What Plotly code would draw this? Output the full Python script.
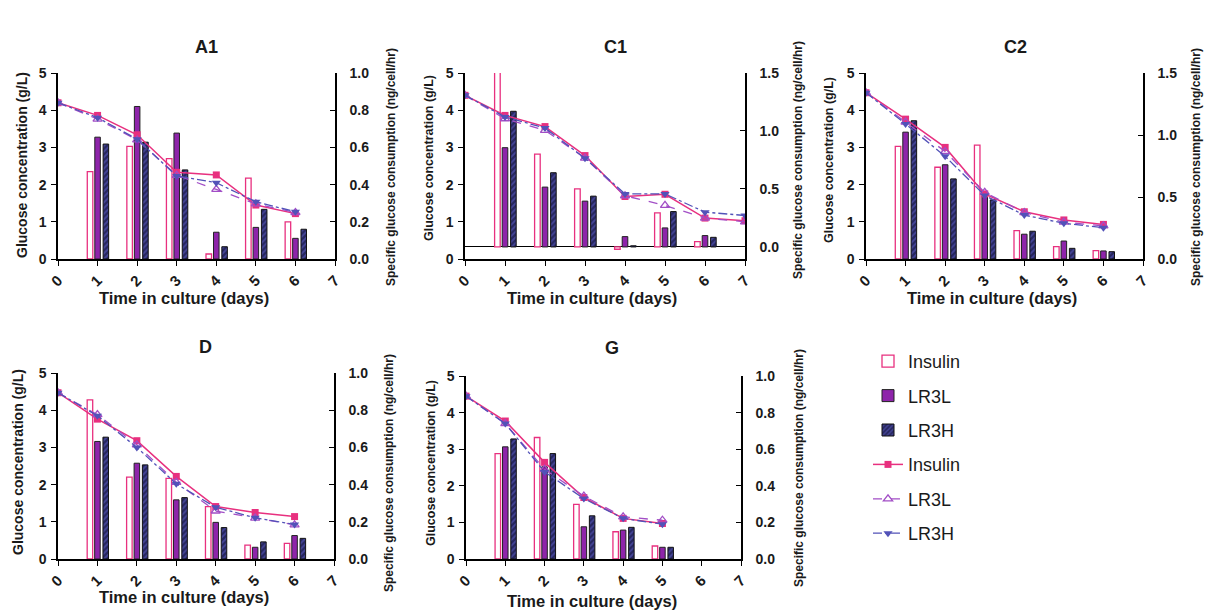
import plotly.graph_objects as go

# ---------------- data ----------------
panel_names = ["A1", "C1", "C2", "D", "G"]
series_names = ["Insulin", "LR3L", "LR3H"]

# glucose concentration (g/L), line series, starting at day 0
a1_glc_ins = [4.20, 3.86, 3.34, 2.33, 2.26, 1.45, 1.22]
a1_glc_l = [4.20, 3.76, 3.20, 2.25, 1.87, 1.48, 1.25]
a1_glc_h = [4.20, 3.80, 3.22, 2.23, 2.05, 1.54, 1.27]
# specific glucose consumption (ng/cell/hr), bars, starting at day 1
a1_sgc_ins = [0.47, 0.605, 0.54, 0.027, 0.435, 0.20]
a1_sgc_l = [0.655, 0.82, 0.677, 0.144, 0.17, 0.111]
a1_sgc_h = [0.618, 0.628, 0.479, 0.066, 0.267, 0.16]

c1_glc_ins = [4.40, 3.86, 3.56, 2.78, 1.68, 1.74, 1.10, 1.03]
c1_glc_l = [4.40, 3.77, 3.46, 2.71, 1.70, 1.44, 1.10, 1.00]
c1_glc_h = [4.40, 3.82, 3.52, 2.71, 1.75, 1.75, 1.26, 1.17]
c1_sgc_ins = [1.56, 0.80, 0.50, -0.02, 0.294, 0.046]
c1_sgc_l = [0.856, 0.516, 0.395, 0.089, 0.164, 0.098]
c1_sgc_h = [1.17, 0.64, 0.438, 0.01, 0.305, 0.083]

c2_glc_ins = [4.47, 3.76, 3.00, 1.75, 1.27, 1.05, 0.93]
c2_glc_l = [4.47, 3.68, 2.89, 1.79, 1.25, 0.99, 0.89]
c2_glc_h = [4.47, 3.63, 2.76, 1.71, 1.18, 0.96, 0.84]
c2_sgc_ins = [0.908, 0.74, 0.918, 0.229, 0.10, 0.067]
c2_sgc_l = [1.023, 0.76, 0.51, 0.20, 0.145, 0.065]
c2_sgc_h = [1.115, 0.646, 0.477, 0.224, 0.086, 0.059]

d_glc_ins = [4.47, 3.76, 3.18, 2.22, 1.41, 1.25, 1.14]
d_glc_l = [4.47, 3.88, 3.07, 2.06, 1.29, 1.10, 0.92]
d_glc_h = [4.47, 3.85, 3.00, 2.02, 1.39, 1.11, 0.93]
d_sgc_ins = [0.856, 0.44, 0.434, 0.282, 0.075, 0.084]
d_sgc_l = [0.632, 0.515, 0.318, 0.197, 0.063, 0.126]
d_sgc_h = [0.655, 0.506, 0.33, 0.169, 0.092, 0.111]

g_glc_ins = [4.45, 3.77, 2.64, 1.68, 1.11, 0.97]
g_glc_l = [4.45, 3.70, 2.45, 1.72, 1.15, 1.06]
g_glc_h = [4.45, 3.70, 2.38, 1.65, 1.11, 0.95]
g_sgc_ins = [0.576, 0.664, 0.298, 0.149, 0.071]
g_sgc_l = [0.613, 0.504, 0.176, 0.158, 0.064]
g_sgc_h = [0.656, 0.576, 0.236, 0.173, 0.064]

x_ticks = [0, 1, 2, 3, 4, 5, 6, 7]
left_ticks = [0, 1, 2, 3, 4, 5]
right_ticks_1 = [0.0, 0.2, 0.4, 0.6, 0.8, 1.0]
right_ticks_15 = [0.0, 0.5, 1.0, 1.5]

panels = [
    dict(glc=[a1_glc_ins, a1_glc_l, a1_glc_h], sgc=[a1_sgc_ins, a1_sgc_l, a1_sgc_h],
         rticks=right_ticks_1, rrange=[0, 1.0]),
    dict(glc=[c1_glc_ins, c1_glc_l, c1_glc_h], sgc=[c1_sgc_ins, c1_sgc_l, c1_sgc_h],
         rticks=right_ticks_15, rrange=[-0.104, 1.5]),
    dict(glc=[c2_glc_ins, c2_glc_l, c2_glc_h], sgc=[c2_sgc_ins, c2_sgc_l, c2_sgc_h],
         rticks=right_ticks_15, rrange=[0, 1.5]),
    dict(glc=[d_glc_ins, d_glc_l, d_glc_h], sgc=[d_sgc_ins, d_sgc_l, d_sgc_h],
         rticks=right_ticks_1, rrange=[0, 1.0]),
    dict(glc=[g_glc_ins, g_glc_l, g_glc_h], sgc=[g_sgc_ins, g_sgc_l, g_sgc_h],
         rticks=right_ticks_1, rrange=[0, 1.0]),
]

# ---------------- layout geometry (pixels) ----------------
W, H = 1210, 615
px_boxes = [  # left, right, top, bottom
    (58, 335, 73, 259),
    (465, 745, 73, 259),
    (866, 1143, 73, 259),
    (58, 334, 373, 559),
    (466, 741, 376, 559),
]
title_pos = [(206, 47), (616, 47), (1015, 47), (205, 347), (612, 348)]
xtitle_pos = [(184, 298), (592, 298), (992, 298), (184, 597), (592, 601)]
ltitle_pos = [(22, 165, 14), (429, 158, 12.5), (829, 160, 12.5), (18, 462, 14), (431, 463, 12.5)]
rtitle_pos = [(391, 167), (798, 160), (1196, 167), (389, 473), (799, 468)]

PINK = "#e8307f"
PURPLE = "#8e24aa"
NAVY = "#26265e"
STRIPE = "#6464d2"
LPURPLE = "#a24ec6"
BLUE = "#5252b8"
FONT = "Liberation Sans"

bar_style = [
    dict(marker=dict(color="white", line=dict(color=PINK, width=1.3))),
    dict(marker=dict(color=PURPLE, line=dict(color="#222222", width=1))),
    dict(marker=dict(color=NAVY, line=dict(color="#111111", width=1),
                     pattern=dict(shape="/", fgcolor=STRIPE, bgcolor=NAVY, size=4, solidity=0.45))),
]
bar_offsets = [-0.26, -0.07, 0.14]
line_style = [
    dict(line=dict(color=PINK, width=1.5, dash="solid"),
         marker=dict(symbol="square", size=7, color=PINK)),
    dict(line=dict(color=LPURPLE, width=1.3, dash="dash"),
         marker=dict(symbol="triangle-up-open", size=8, color=LPURPLE, line=dict(width=1.3))),
    dict(line=dict(color=BLUE, width=1.3, dash="dashdot"),
         marker=dict(symbol="triangle-down", size=8, color=BLUE)),
]

fig = go.Figure()
layout = dict(
    width=W, height=H, margin=dict(l=0, r=0, t=0, b=0, autoexpand=False),
    paper_bgcolor="white", plot_bgcolor="white",
    font=dict(family=FONT, color="#1a1a1a"),
    barmode="overlay",
    showlegend=True,
    legend=dict(x=868 / W, y=1 - 343 / H, xanchor="left", yanchor="top",
                font=dict(family=FONT, size=18, color="#1a1a1a"),
                tracegroupgap=8, itemwidth=30, bgcolor="rgba(0,0,0,0)"),
)
annotations = []
tickfont = dict(family=FONT, size=14, weight="bold", color="#1a1a1a")

for k, p in enumerate(panels):
    xa = f"x{k + 1}"
    ybar = f"y{2 * k + 1}"
    yline = f"y{2 * k + 2}"
    L, R, T, B = px_boxes[k]
    xdom = [L / W, R / W]
    ydom = [1 - B / H, 1 - T / H]

    for s in range(3):
        vals = p["sgc"][s]
        fig.add_trace(go.Bar(
            x=x_ticks[1:1 + len(vals)], y=vals, width=0.14, offset=bar_offsets[s],
            name=series_names[s], legendgroup=f"bar{s}", showlegend=(k == 0),
            xaxis=xa, yaxis=ybar, **bar_style[s]))
    for s in range(3):
        vals = p["glc"][s]
        fig.add_trace(go.Scatter(
            x=x_ticks[:len(vals)], y=vals, mode="lines+markers",
            name=series_names[s], legendgroup=f"line{s}", showlegend=(k == 0),
            xaxis=xa, yaxis=yline, **line_style[s]))

    layout[f"xaxis{k + 1}"] = dict(
        domain=xdom, anchor=ybar, range=[0, 7], tickvals=x_ticks, tickangle=-45,
        ticks="outside", ticklen=5, tickwidth=1.3, tickcolor="black",
        showline=True, linecolor="black", linewidth=1.5, showgrid=False, zeroline=False,
        tickfont=dict(family=FONT, size=15, weight="bold", color="#1a1a1a"),
        fixedrange=True, automargin=False)
    bar_axis = dict(
        domain=ydom, anchor=xa, side="right", range=p["rrange"], tickvals=p["rticks"],
        tickformat=".1f", ticks="inside", ticklen=5, tickwidth=1.3, tickcolor="black",
        showline=True, linecolor="black", linewidth=1.5, showgrid=False,
        zeroline=(k == 1), zerolinecolor="black", zerolinewidth=1.2,
        tickfont=tickfont, ticklabelstandoff=10, automargin=False, fixedrange=True)
    if k == 0:
        layout["yaxis"] = bar_axis
    else:
        layout[f"yaxis{2 * k + 1}"] = bar_axis
    layout[f"yaxis{2 * k + 2}"] = dict(
        overlaying=ybar, anchor=xa, side="left", range=[0, 5], tickvals=left_ticks,
        ticks="outside", ticklen=5, tickwidth=1.3, tickcolor="black",
        showline=True, linecolor="black", linewidth=1.5, showgrid=False, zeroline=False,
        tickfont=tickfont, ticklabelstandoff=2, automargin=False, fixedrange=True)

    tx, ty = title_pos[k]
    annotations.append(dict(text=panel_names[k], x=tx / W, y=1 - ty / H, xref="paper", yref="paper",
                            showarrow=False, xanchor="center", yanchor="middle",
                            font=dict(family=FONT, size=18, weight="bold", color="#1a1a1a")))
    xx, xy = xtitle_pos[k]
    annotations.append(dict(text="Time in culture (days)", x=xx / W, y=1 - xy / H, xref="paper", yref="paper",
                            showarrow=False, xanchor="center", yanchor="middle",
                            font=dict(family=FONT, size=16.5, weight="bold", color="#1a1a1a")))
    lx, ly, ls = ltitle_pos[k]
    annotations.append(dict(text="Glucose concentration (g/L)", x=lx / W, y=1 - ly / H, xref="paper", yref="paper",
                            showarrow=False, xanchor="center", yanchor="middle", textangle=-90,
                            font=dict(family=FONT, size=ls, weight="bold", color="#1a1a1a")))
    rx, ry = rtitle_pos[k]
    annotations.append(dict(text="Specific glucose consumption (ng/cell/hr)", x=rx / W, y=1 - ry / H,
                            xref="paper", yref="paper", showarrow=False, xanchor="center", yanchor="middle",
                            textangle=-90,
                            font=dict(family=FONT, size=12, weight="bold", color="#1a1a1a")))

layout["annotations"] = annotations
fig.update_layout(**layout)
fig.write_html("out.html",
               config={"displayModeBar": False},
               post_script="document.body.style.margin='0';document.body.style.overflow='hidden';")
